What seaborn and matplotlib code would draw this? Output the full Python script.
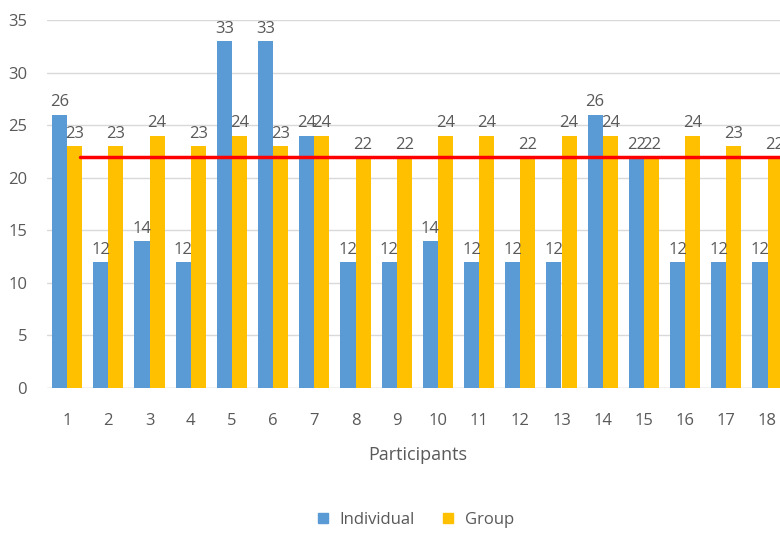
import pandas as pd
import numpy as np
import matplotlib
matplotlib.use('Agg')
import matplotlib.pyplot as plt
import seaborn as sns

# values
participants = [str(i) for i in range(1, 19)]
individual = [26, 12, 14, 12, 33, 33, 24, 12, 12, 14, 12, 12, 12, 26, 22, 12, 12, 12]
group = [23, 23, 24, 23, 24, 23, 24, 22, 22, 24, 24, 22, 24, 24, 22, 24, 23, 22]
threshold = 22

df = pd.DataFrame({'Participant': participants * 2,
                   'Score': individual + group,
                   'Type': ['Individual'] * 18 + ['Group'] * 18})

sns.set_style('white')
plt.rcParams['font.family'] = ['Open Sans', 'DejaVu Sans']

fig = plt.figure(figsize=(7.8, 5.37), dpi=100)
ax = fig.add_axes([46.5 / 780, 1 - 388 / 537, 741.6 / 780, 368 / 537])

sns.barplot(data=df, x='Participant', y='Score', hue='Type',
            palette={'Individual': '#5B9BD5', 'Group': '#FFC000'},
            width=0.73, gap=0, saturation=1, linewidth=0, ax=ax, legend=False)

for c in ax.containers:
    ax.bar_label(c, fmt='%d', padding=3, fontsize=12, color='#595959')

# red reference line
ax.plot([0.32, 18], [threshold, threshold], color='#FF0000', lw=2.5, zorder=5)

ax.set_ylim(0, 35)
ax.set_xlim(-0.5, 17.5)
ax.set_yticks(np.arange(0, 36, 5))
ax.yaxis.grid(True, color='#D9D9D9', lw=1)
ax.set_axisbelow(True)
for s in ax.spines.values():
    s.set_visible(False)
ax.axhline(0, color='#D9D9D9', lw=1, zorder=0)
ax.tick_params(axis='y', length=0, labelsize=12, colors='#595959', pad=14)
ax.tick_params(axis='x', length=0, labelsize=12, colors='#595959', pad=18)
ax.set_xlabel('Participants', fontsize=13, color='#595959', labelpad=12)
ax.set_ylabel('')

handles = [plt.Line2D([], [], marker='s', ls='', color='#5B9BD5', markersize=7),
           plt.Line2D([], [], marker='s', ls='', color='#FFC000', markersize=7)]
fig.legend(handles, ['Individual', 'Group'], loc='center', bbox_to_anchor=(410 / 780, 1 - 520 / 537),
           ncol=2, frameon=False, fontsize=12, labelcolor='#595959',
           handletextpad=0.0, columnspacing=1.0)

fig.savefig('out.png', dpi=100)
